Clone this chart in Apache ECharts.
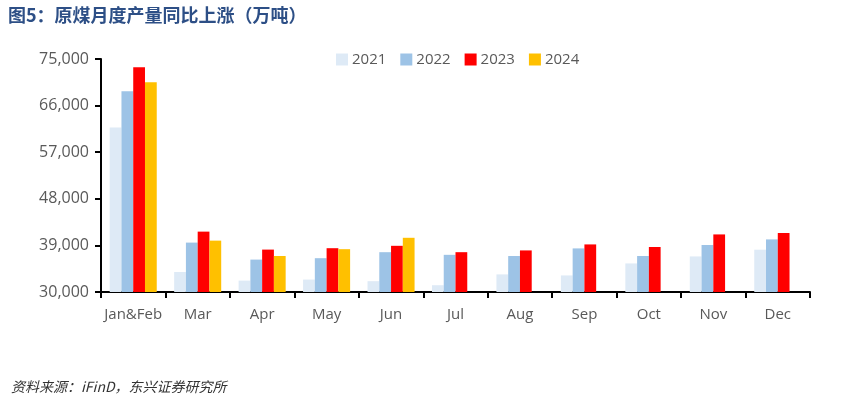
<!DOCTYPE html>
<html>
<head>
<meta charset="utf-8">
<script src="https://cdn.jsdelivr.net/npm/echarts@6/dist/echarts.min.js"></script>
<style>
  html, body { margin: 0; padding: 0; background: #ffffff; }
  #chart { width: 844px; height: 399px; }
</style>
</head>
<body>
<div id="chart"></div>
<script>
// 原煤月度产量（万吨）
const months = ['Jan&Feb', 'Mar', 'Apr', 'May', 'Jun', 'Jul', 'Aug', 'Sep', 'Oct', 'Nov', 'Dec']
const y2021 = [61750, 33860, 32200, 32400, 32090, 31310, 33400, 33200, 35520, 36870, 38170]
const y2022 = [68760, 39540, 36260, 36530, 37690, 37180, 36950, 38420, 36950, 39080, 40160]
const y2023 = [73390, 41660, 38190, 38460, 38920, 37690, 38030, 39190, 38690, 41120, 41390]
const y2024 = [70490, 39920, 36950, 38270, 40470, null, null, null, null, null, null]
const yTicks = [30000, 39000, 48000, 57000, 66000, 75000]

const chart = echarts.init(document.getElementById('chart'))

const barSeries = (name, data, color) => ({
  name: name,
  type: 'bar',
  data: data,
  barGap: '0%',
  barCategoryGap: '27%',
  itemStyle: { color: color },
})

chart.setOption({
  animation: false,
  title: [
    {
      text: '图5：原煤月度产量同比上涨（万吨）',
      left: 3,
      top: 1,
      textStyle: {
        color: '#2d4f86',
        fontSize: 18,
        fontWeight: 'bold',
        fontFamily: 'Noto Sans CJK SC',
      },
    },
    {
      text: '资料来源：iFinD，东兴证券研究所',
      left: 6,
      top: 375,
      textStyle: {
        color: '#333333',
        fontSize: 14,
        fontWeight: 'normal',
        fontStyle: 'italic',
        fontFamily: 'Noto Sans CJK SC',
      },
    },
  ],
  legend: {
    data: ['2021', '2022', '2023', '2024'],
    left: 331,
    top: 47,
    itemWidth: 12,
    itemHeight: 12,
    itemGap: 14,
    icon: 'rect',
    textStyle: {
      color: '#595959',
      fontSize: 15,
      fontFamily: 'Open Sans',
      padding: [0, 0, 0, -1],
    },
  },
  grid: {
    left: 101,
    right: 34,
    top: 59,
    bottom: 107,
  },
  xAxis: {
    type: 'category',
    data: months,
    axisLine: { show: true, lineStyle: { color: '#000000', width: 2 } },
    axisTick: { show: true, length: 6, lineStyle: { color: '#000000', width: 2 } },
    axisLabel: {
      interval: 0,
      color: '#595959',
      fontSize: 15,
      fontFamily: 'Open Sans',
      margin: 15,
    },
  },
  yAxis: {
    type: 'value',
    min: yTicks[0],
    max: yTicks[yTicks.length - 1],
    interval: 9000,
    splitLine: { show: false },
    axisLine: { show: true, lineStyle: { color: '#000000', width: 2 } },
    axisTick: { show: true, length: 6, lineStyle: { color: '#000000', width: 2 } },
    axisLabel: {
      color: '#595959',
      fontSize: 16,
      fontFamily: 'Open Sans',
      margin: 12,
      formatter: (v) => v.toLocaleString('en-US'),
    },
  },
  series: [
    barSeries('2021', y2021, '#deeaf6'),
    barSeries('2022', y2022, '#9dc3e6'),
    barSeries('2023', y2023, '#ff0000'),
    barSeries('2024', y2024, '#ffc000'),
  ],
})
</script>
</body>
</html>
